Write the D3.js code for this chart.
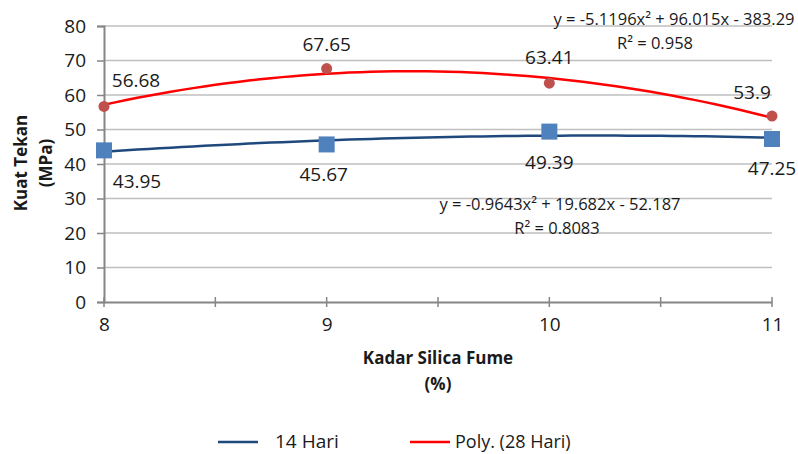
<!DOCTYPE html>
<html>
<head>
<meta charset="utf-8">
<script src="https://cdn.jsdelivr.net/npm/d3@7"></script>
<style>
  html, body { margin: 0; padding: 0; background: #fff; }
  svg { display: block; }
  text { font-family: "Open Sans", "Liberation Sans", sans-serif; fill: #1a1a1a; }
</style>
</head>
<body>
<svg id="chart" width="798" height="454"></svg>
<script>
// ---- data ----
const kadar = [8, 9, 10, 11];
const hari14 = [43.95, 45.67, 49.39, 47.25];
const hari28 = [56.68, 67.65, 63.41, 53.9];
const yTicks = [0, 10, 20, 30, 40, 50, 60, 70, 80];
const xTicks = [8, 9, 10, 11];
// trendline coefficients (a, b, c) for y = a x^2 + b x + c, as printed on the chart
const trend14 = [-0.9643, 19.682, -52.187];
const trend28 = [-5.1196, 96.015, -383.29];
const eq14 = ["y = -0.9643x² + 19.682x - 52.187", "R² = 0.8083"];
const eq28 = ["y = -5.1196x² + 96.015x - 383.29", "R² = 0.958"];
const legendLabels = ["14 Hari", "Poly. (28 Hari)"];

// ---- layout ----
const svg = d3.select("#chart");
const x = d3.scaleLinear().domain([8, 11]).range([104, 772]);
const y = d3.scaleLinear().domain([0, 80]).range([302, 26]);
const axisColor = "#868686";
const gridColor = "#bfbfbf";

// gridlines
svg.append("g").selectAll("line").data(yTicks.filter(d => d > 0)).join("line")
  .attr("x1", x(8)).attr("x2", x(11))
  .attr("y1", d => y(d)).attr("y2", d => y(d))
  .attr("stroke", gridColor).attr("stroke-width", 1.5);

// y axis
const yAxis = svg.append("g").attr("transform", `translate(${x(8)},0)`)
  .call(d3.axisLeft(y).tickValues(yTicks).tickSize(7).tickPadding(11));
yAxis.select(".domain").attr("stroke", axisColor).attr("stroke-width", 2);
yAxis.selectAll(".tick line").attr("stroke", axisColor).attr("stroke-width", 1.5);
yAxis.selectAll(".tick text").style("font-size", "19px").style("font-family", "Open Sans").attr("fill", "#1a1a1a");

// x axis
const xAxis = svg.append("g").attr("transform", `translate(0,${y(0)})`)
  .call(d3.axisBottom(x).tickValues(xTicks).tickFormat(d3.format("d")).tickSize(0).tickPadding(16));
xAxis.select(".domain").attr("stroke", axisColor).attr("stroke-width", 2);
xAxis.selectAll(".tick text").style("font-size", "19px").style("font-family", "Open Sans").attr("fill", "#1a1a1a");
// half-step tick marks crossing the axis
svg.append("g").selectAll("line").data(d3.range(8, 11.01, 0.5)).join("line")
  .attr("x1", d => x(d)).attr("x2", d => x(d))
  .attr("y1", y(0) - 5).attr("y2", y(0) + 5)
  .attr("stroke", axisColor).attr("stroke-width", 1.5);

// trendlines
const poly = c => v => c[0] * v * v + c[1] * v + c[2];
const xs = d3.range(8, 11.0001, 0.05);
const line = d3.line().x(d => x(d[0])).y(d => y(d[1])).curve(d3.curveLinear);
svg.append("path").datum(xs.map(v => [v, poly(trend14)(v)]))
  .attr("d", line).attr("fill", "none").attr("stroke", "#1f497d").attr("stroke-width", 2.5);
svg.append("path").datum(xs.map(v => [v, poly(trend28)(v)]))
  .attr("d", line).attr("fill", "none").attr("stroke", "#ff0000").attr("stroke-width", 2.5);

// markers
svg.append("g").selectAll("rect").data(kadar).join("rect")
  .attr("x", (d, i) => x(d) - 8).attr("y", (d, i) => y(hari14[i]) - 8)
  .attr("width", 16).attr("height", 16).attr("fill", "#4f81bd");
svg.append("g").selectAll("circle").data(kadar).join("circle")
  .attr("cx", d => x(d)).attr("cy", (d, i) => y(hari28[i])).attr("r", 5.5)
  .attr("fill", "#c0504d");

// data labels
const off28 = [[32, -26], [0, -25], [0, -26], [-20, -24]];
const off14 = [[33, 31], [-3, 30], [0, 30], [0, 29]];
svg.append("g").selectAll("text").data(kadar).join("text")
  .attr("x", (d, i) => x(d) + off28[i][0]).attr("y", (d, i) => y(hari28[i]) + off28[i][1])
  .attr("text-anchor", "middle").attr("dominant-baseline", "central")
  .style("font-size", "19px").text((d, i) => hari28[i]);
svg.append("g").selectAll("text").data(kadar).join("text")
  .attr("x", (d, i) => x(d) + off14[i][0]).attr("y", (d, i) => y(hari14[i]) + off14[i][1])
  .attr("text-anchor", "middle").attr("dominant-baseline", "central")
  .style("font-size", "19px").text((d, i) => hari14[i]);

// equations
const eqText = (lines, cx, cx2, cy) => {
  svg.append("text").attr("x", cx).attr("y", cy).attr("text-anchor", "middle")
    .attr("dominant-baseline", "central").style("font-size", "16.5px").text(lines[0]);
  svg.append("text").attr("x", cx2).attr("y", cy + 24).attr("text-anchor", "middle")
    .attr("dominant-baseline", "central").style("font-size", "16.5px").text(lines[1]);
};
eqText(eq28, 674, 655, 18);
eqText(eq14, 560, 557, 203);

// axis titles
const titleFont = "Liberation Sans Narrow, Open Sans";
svg.append("text").attr("transform", "translate(20,163) rotate(-90)")
  .attr("text-anchor", "middle").attr("dominant-baseline", "central")
  .style("font-size", "17px").style("font-weight", "bold").style("font-family", titleFont)
  .text("Kuat Tekan");
svg.append("text").attr("transform", "translate(45,163) rotate(-90)")
  .attr("text-anchor", "middle").attr("dominant-baseline", "central")
  .style("font-size", "17px").style("font-weight", "bold").style("font-family", titleFont)
  .text("(MPa)");
svg.append("text").attr("x", 438).attr("y", 357)
  .attr("text-anchor", "middle").attr("dominant-baseline", "central")
  .style("font-size", "17px").style("font-weight", "bold").style("font-family", titleFont)
  .text("Kadar Silica Fume");
svg.append("text").attr("x", 438).attr("y", 383)
  .attr("text-anchor", "middle").attr("dominant-baseline", "central")
  .style("font-size", "17px").style("font-weight", "bold").style("font-family", titleFont)
  .text("(%)");

// legend
const legColors = ["#1f497d", "#ff0000"];
const legX = [218, 410];
const legTextX = [275, 455];
const leg = svg.append("g").selectAll("g").data(legendLabels).join("g");
leg.append("line").attr("x1", (d, i) => legX[i]).attr("x2", (d, i) => legX[i] + 40)
  .attr("y1", 442).attr("y2", 442).attr("stroke", (d, i) => legColors[i]).attr("stroke-width", 2.5);
leg.append("text").attr("x", (d, i) => legTextX[i]).attr("y", 441)
  .attr("dominant-baseline", "central").style("font-size", (d, i) => i === 0 ? "19px" : "18px").text(d => d);
</script>
</body>
</html>
